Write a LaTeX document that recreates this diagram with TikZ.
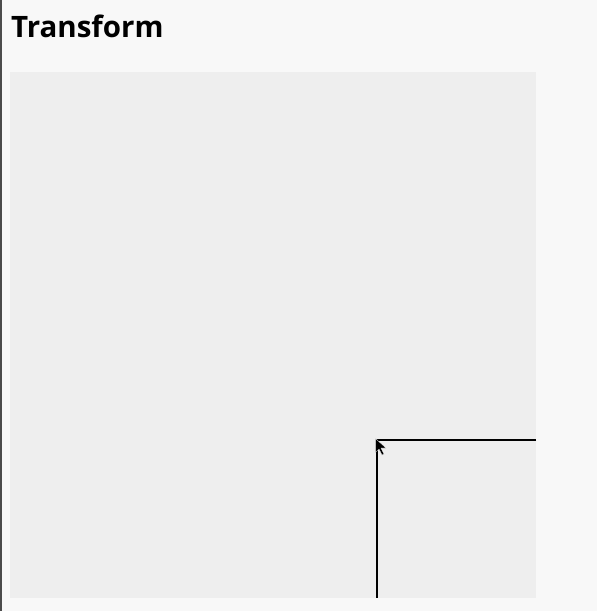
\documentclass[tikz,border=0pt]{standalone}
\usepackage{fontspec}
\setmainfont{Open Sans}
\usetikzlibrary{positioning}
\definecolor{boxgray}{HTML}{EEEEEE}
\definecolor{pagegray}{HTML}{F8F8F8}
\begin{document}
\begin{tikzpicture}[x=1pt,y=-1pt,
  canvas/.style={fill=boxgray,draw=none},
  guide/.style={draw=black,line width=1.6pt},
  pointer/.style={fill=black,draw=white,line width=0.3pt}]
\useasboundingbox (0,0) rectangle (597,611);
\fill[pagegray] (0,0) rectangle (597,611);
\fill[black!70] (0,0) rectangle (2,611);
\node[anchor=base west,inner sep=0pt,
  font=\bfseries\fontsize{29.5}{34}\selectfont] (title) at (11,37) {Transform};
% drawing area
\coordinate (box top) at (10,72);
\coordinate (box bottom) at (536,598);
\fill[canvas] (box top) rectangle (box bottom);
% dragged corner
\coordinate (corner) at (377,440);
\coordinate (right end) at (536,440);
\coordinate (bottom end) at (377,598);
\draw[guide] (right end) -- (corner) -- (bottom end);
\filldraw[pointer] ([xshift=-1.5pt,yshift=1.5pt]corner) -- ++(0,14) -- ++(3.5,-3.5)
  -- ++(3,6) -- ++(2,-1) -- ++(-3,-6) -- ++(5,0) -- cycle;
\end{tikzpicture}
\end{document}
